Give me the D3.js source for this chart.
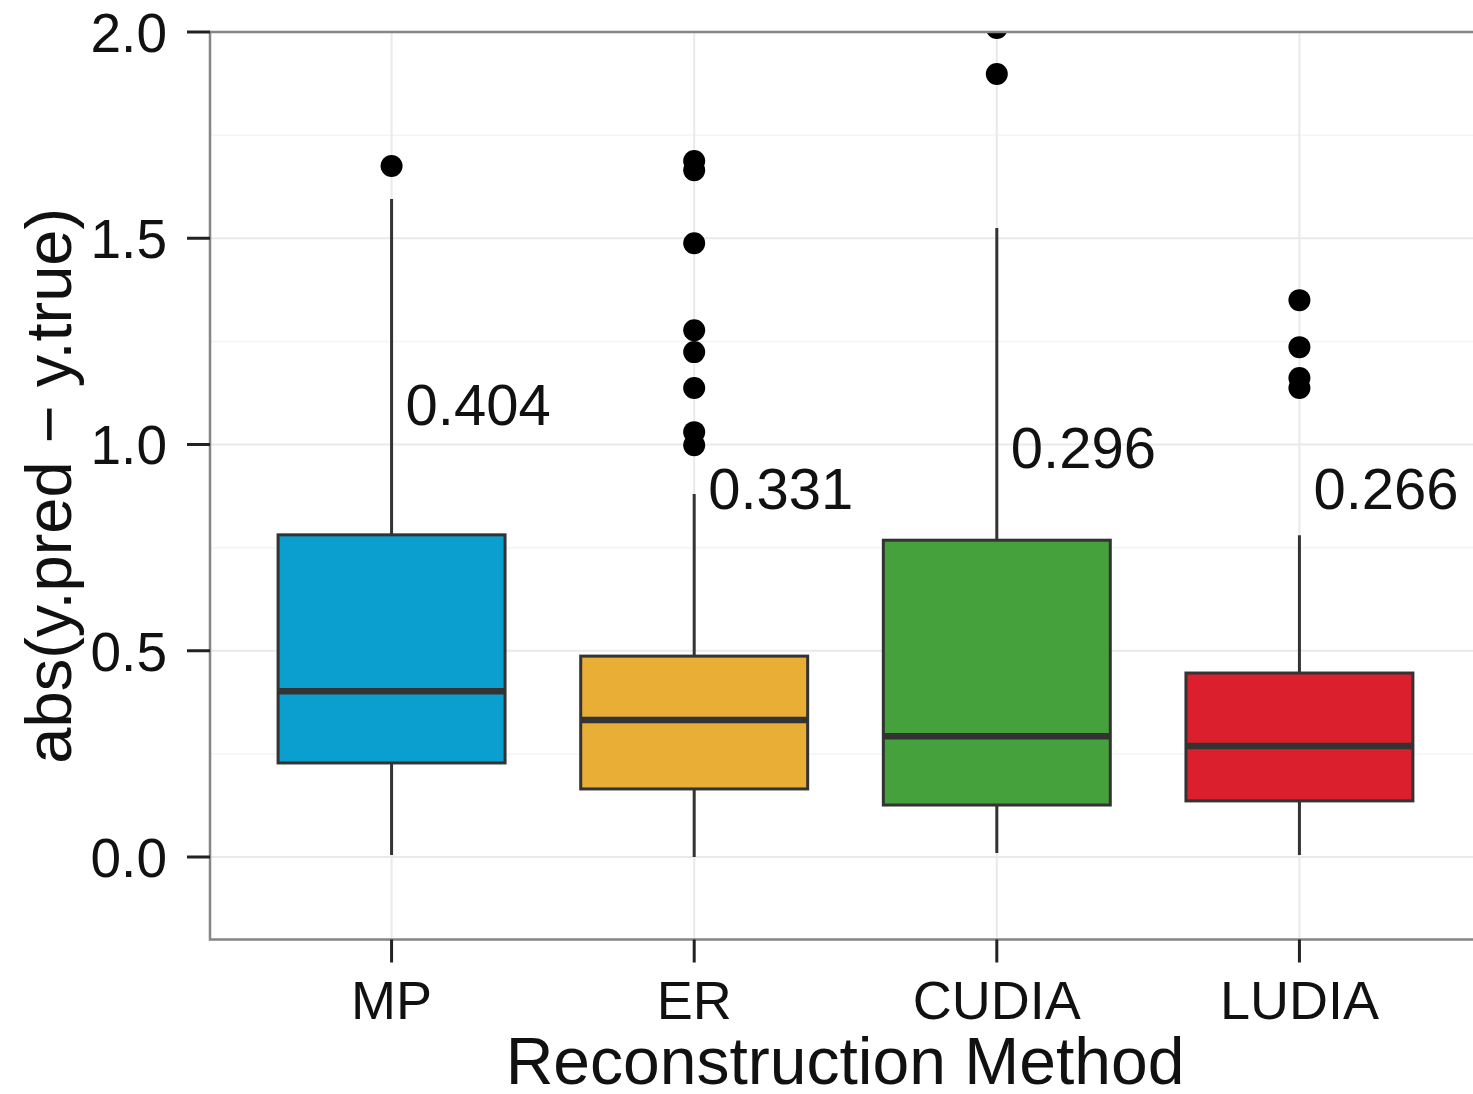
<!DOCTYPE html>
<html>
<head>
<meta charset="utf-8">
<script src="https://cdn.jsdelivr.net/npm/d3@7"></script>
<style>
  body { margin: 0; background: #fff; }
  text { font-family: "Liberation Sans", Arial, Helvetica, sans-serif; }
</style>
</head>
<body>
<div id="chart"></div>
<script>
// Data
var methods = ["MP", "ER", "CUDIA", "LUDIA"];
var colors = ["#0a9fce", "#e8ae36", "#45a13b", "#dc1f2d"];
var lowerWhisker = [0.005, 0.0, 0.01, 0.005];
var lowerQuartile = [0.228, 0.165, 0.126, 0.136];
var medians = [0.402, 0.332, 0.293, 0.269];
var upperQuartile = [0.781, 0.487, 0.768, 0.446];
var upperWhisker = [1.595, 0.88, 1.525, 0.78];
var outliers = [
  [1.675],
  [1.687, 1.665, 1.488, 1.277, 1.224, 1.137, 1.030, 0.998],
  [2.01, 1.898],
  [1.350, 1.236, 1.161, 1.137]
];
var medianLabels = ["0.404", "0.331", "0.296", "0.266"];
var labelY = [1.098, 0.895, 0.994, 0.895];
var yTicks = [0.0, 0.5, 1.0, 1.5, 2.0];
var yMinorTicks = [0.25, 0.75, 1.25, 1.75];

// Set up the SVG area
var svgWidth = 1473;
var svgHeight = 1094;

// Panel edges (right edge runs past the picture, as in the reference)
var panel = { left: 210, right: 1481, top: 32, bottom: 939.5 };

var svg = d3.select("#chart")
  .append("svg")
  .attr("width", svgWidth)
  .attr("height", svgHeight);

var xScale = d3.scalePoint()
  .domain(methods)
  .range([panel.left, panel.right])
  .padding(0.6);

var yScale = d3.scaleLinear()
  .domain([-0.2, 2.0])
  .range([panel.bottom, panel.top]);

var boxWidth = xScale.step() * 0.75;

svg.append("clipPath")
  .attr("id", "panelClip")
  .append("rect")
  .attr("x", panel.left)
  .attr("y", panel.top)
  .attr("width", panel.right - panel.left)
  .attr("height", panel.bottom - panel.top);

// Grid lines
var grid = svg.append("g");

grid.selectAll(".minor")
  .data(yMinorTicks)
  .join("line")
  .attr("x1", panel.left)
  .attr("x2", panel.right)
  .attr("y1", d => yScale(d))
  .attr("y2", d => yScale(d))
  .attr("stroke", "#f4f4f4")
  .attr("stroke-width", 1.5);

grid.selectAll(".major")
  .data(yTicks)
  .join("line")
  .attr("x1", panel.left)
  .attr("x2", panel.right)
  .attr("y1", d => yScale(d))
  .attr("y2", d => yScale(d))
  .attr("stroke", "#e9e9e9")
  .attr("stroke-width", 2);

grid.selectAll(".vert")
  .data(methods)
  .join("line")
  .attr("x1", d => xScale(d))
  .attr("x2", d => xScale(d))
  .attr("y1", panel.top)
  .attr("y2", panel.bottom)
  .attr("stroke", "#e9e9e9")
  .attr("stroke-width", 2);

// Boxplots
var plot = svg.append("g").attr("clip-path", "url(#panelClip)");

var boxes = plot.selectAll(".box")
  .data(methods)
  .join("g");

// whiskers
boxes.append("line")
  .attr("x1", d => xScale(d))
  .attr("x2", d => xScale(d))
  .attr("y1", (d, i) => yScale(upperWhisker[i]))
  .attr("y2", (d, i) => yScale(upperQuartile[i]))
  .attr("stroke", "#333")
  .attr("stroke-width", 3);

boxes.append("line")
  .attr("x1", d => xScale(d))
  .attr("x2", d => xScale(d))
  .attr("y1", (d, i) => yScale(lowerQuartile[i]))
  .attr("y2", (d, i) => yScale(lowerWhisker[i]))
  .attr("stroke", "#333")
  .attr("stroke-width", 3);

// box
boxes.append("rect")
  .attr("x", d => xScale(d) - boxWidth / 2)
  .attr("width", boxWidth)
  .attr("y", (d, i) => yScale(upperQuartile[i]))
  .attr("height", (d, i) => yScale(lowerQuartile[i]) - yScale(upperQuartile[i]))
  .attr("fill", (d, i) => colors[i])
  .attr("stroke", "#333")
  .attr("stroke-width", 3);

// median
boxes.append("line")
  .attr("x1", d => xScale(d) - boxWidth / 2)
  .attr("x2", d => xScale(d) + boxWidth / 2)
  .attr("y1", (d, i) => yScale(medians[i]))
  .attr("y2", (d, i) => yScale(medians[i]))
  .attr("stroke", "#333")
  .attr("stroke-width", 6.5);

// outliers
boxes.each(function(d, i) {
  d3.select(this).selectAll("circle")
    .data(outliers[i])
    .join("circle")
    .attr("cx", xScale(d))
    .attr("cy", v => yScale(v))
    .attr("r", 11)
    .attr("fill", "#000");
});

// median labels
plot.selectAll(".lab")
  .data(methods)
  .join("text")
  .attr("x", d => xScale(d) + 14)
  .attr("y", (d, i) => yScale(labelY[i]))
  .attr("dy", "0.36em")
  .attr("font-size", "58px")
  .attr("fill", "#111")
  .text((d, i) => medianLabels[i]);

// Panel border
svg.append("path")
  .attr("d", `M${panel.right},${panel.top}H${panel.left}V${panel.bottom}H${panel.right}`)
  .attr("fill", "none")
  .attr("stroke", "#858585")
  .attr("stroke-width", 2.5);

// y axis ticks and labels
var yAxis = svg.append("g");
yAxis.selectAll("line")
  .data(yTicks)
  .join("line")
  .attr("x1", panel.left - 23)
  .attr("x2", panel.left)
  .attr("y1", d => yScale(d))
  .attr("y2", d => yScale(d))
  .attr("stroke", "#222")
  .attr("stroke-width", 3);
yAxis.selectAll("text")
  .data(yTicks)
  .join("text")
  .attr("x", panel.left - 43)
  .attr("y", d => yScale(d))
  .attr("dy", "0.36em")
  .attr("text-anchor", "end")
  .attr("font-size", "55px")
  .attr("fill", "#111")
  .text(d => d3.format(".1f")(d));

// x axis ticks and labels
var xAxis = svg.append("g");
xAxis.selectAll("line")
  .data(methods)
  .join("line")
  .attr("x1", d => xScale(d))
  .attr("x2", d => xScale(d))
  .attr("y1", panel.bottom)
  .attr("y2", panel.bottom + 23)
  .attr("stroke", "#222")
  .attr("stroke-width", 3);
xAxis.selectAll("text")
  .data(methods)
  .join("text")
  .attr("x", d => xScale(d))
  .attr("y", 1019)
  .attr("text-anchor", "middle")
  .attr("font-size", "54px")
  .attr("fill", "#111")
  .text(d => d);

// Axis titles
svg.append("text")
  .attr("x", 845)
  .attr("y", 1084)
  .attr("text-anchor", "middle")
  .attr("font-size", "66px")
  .attr("fill", "#111")
  .text("Reconstruction Method");

svg.append("text")
  .attr("transform", `translate(71, ${(panel.top + panel.bottom) / 2}) rotate(-90)`)
  .attr("text-anchor", "middle")
  .attr("font-size", "65px")
  .attr("fill", "#111")
  .text("abs(y.pred \u2212 y.true)");
</script>
</body>
</html>
